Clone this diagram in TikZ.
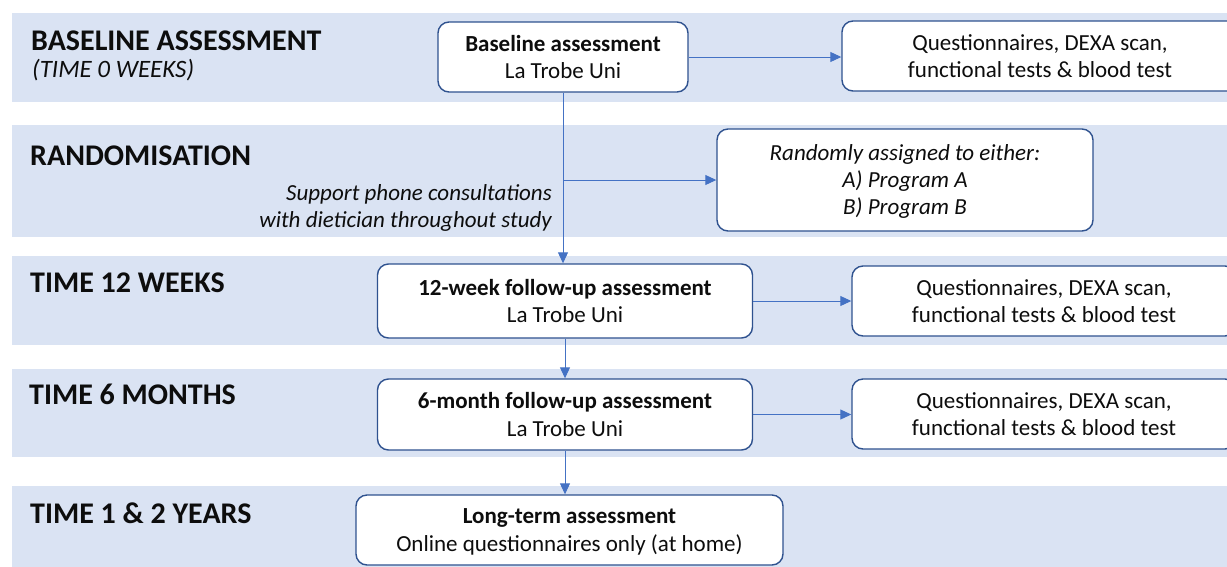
\documentclass[tikz,border=0pt]{standalone}
\usepackage{fontspec}
\setmainfont{Carlito}
\usetikzlibrary{arrows.meta}
\definecolor{bandfill}{HTML}{DAE3F3}
\definecolor{boxline}{HTML}{2F528F}
\definecolor{flow}{HTML}{4472C4}
\definecolor{ink}{HTML}{0D0D0D}
\begin{document}
\begin{tikzpicture}[x=1pt,y=-1pt,
  stage/.style={anchor=base west, inner sep=0pt, text=ink,
    font=\fontsize{30}{34}\selectfont\bfseries},
  card/.style={draw=boxline, line width=1.4pt, fill=white,
    rounded corners=11pt, align=center, inner sep=0pt, text=ink,
    font=\fontsize{23}{27.5}\selectfont},
  % ignore the descenders of the last line, so the text sits a little lower
  lowered/.style={text depth=0pt},
  flowline/.style={draw=flow, line width=1pt},
  flowarrow/.style={flowline, -{Triangle[length=11pt,width=10pt]}}
]
\useasboundingbox (0,0) rectangle (1227,566);

% horizontal stage bands
\fill[bandfill] (12,13)  rectangle (1230,102);
\fill[bandfill] (12,125) rectangle (1230,237);
\fill[bandfill] (12,256) rectangle (1230,345);
\fill[bandfill] (12,369) rectangle (1230,457);
\fill[bandfill] (12,486) rectangle (1230,570);

% stage headings
\node[stage] (h0) at (31,50) {BASELINE ASSESSMENT};
\node[anchor=base west, inner sep=0pt, text=ink,
      font=\fontsize{25}{29}\selectfont\itshape] (h0b) at (32,77) {(TIME 0 WEEKS)};
\node[stage] (h1) at (30,165) {RANDOMISATION};
\node[stage] (h2) at (30,292) {TIME 12 WEEKS};
\node[stage] (h3) at (29,404) {TIME 6 MONTHS};
\node[stage] (h4) at (30,523) {TIME 1 \& 2 YEARS};

% assessment boxes
\node[card, minimum width=250pt, minimum height=70pt] (bl) at (563,57)
  {\textbf{Baseline assessment}\\La Trobe Uni};
\node[card, minimum width=396pt, minimum height=70pt] (q1) at (1040,56)
  {Questionnaires, DEXA scan,\\functional tests \& blood test};
\node[card, lowered, minimum width=376pt, minimum height=102pt, font=\fontsize{23}{27}\selectfont\itshape] (rnd) at (905,180)
  {Randomly assigned to either:\\A) Program A\\B) Program B};
\node[card, minimum width=375pt, minimum height=74pt] (w12) at (565,301)
  {\textbf{12-week follow-up assessment}\\La Trobe Uni};
\node[card, minimum width=384pt, minimum height=70pt] (q2) at (1044,301)
  {Questionnaires, DEXA scan,\\functional tests \& blood test};
\node[card, minimum width=375pt, minimum height=71pt] (m6) at (565,414.5)
  {\textbf{6-month follow-up assessment}\\La Trobe Uni};
\node[card, minimum width=384pt, minimum height=70pt] (q3) at (1044,414)
  {Questionnaires, DEXA scan,\\functional tests \& blood test};
\node[card, lowered, minimum width=427pt, minimum height=70pt] (lt) at (569.5,530)
  {\textbf{Long-term assessment}\\Online questionnaires only (at home)};

% side note on the main line
\node[anchor=east, align=right, inner sep=0pt, text=ink,
      font=\fontsize{23}{27}\selectfont\itshape] (note) at (552,208)
  {Support phone consultations\\with dietician throughout study};

% connectors
\draw[flowarrow] (bl.east) -- (bl.east -| q1.west);
\draw[flowarrow] (bl.south) -- (bl.south |- w12.north);
\coordinate (split) at (bl.south |- rnd.west);
\draw[flowarrow] (split) -- (rnd.west);
\draw[flowarrow] (w12.east) -- (w12.east -| q2.west);
\draw[flowarrow] (w12.south) -- (m6.north);
\draw[flowarrow] (m6.east) -- (m6.east -| q3.west);
\draw[flowarrow] (m6.south) -- (m6.south |- lt.north);
\end{tikzpicture}
\end{document}
